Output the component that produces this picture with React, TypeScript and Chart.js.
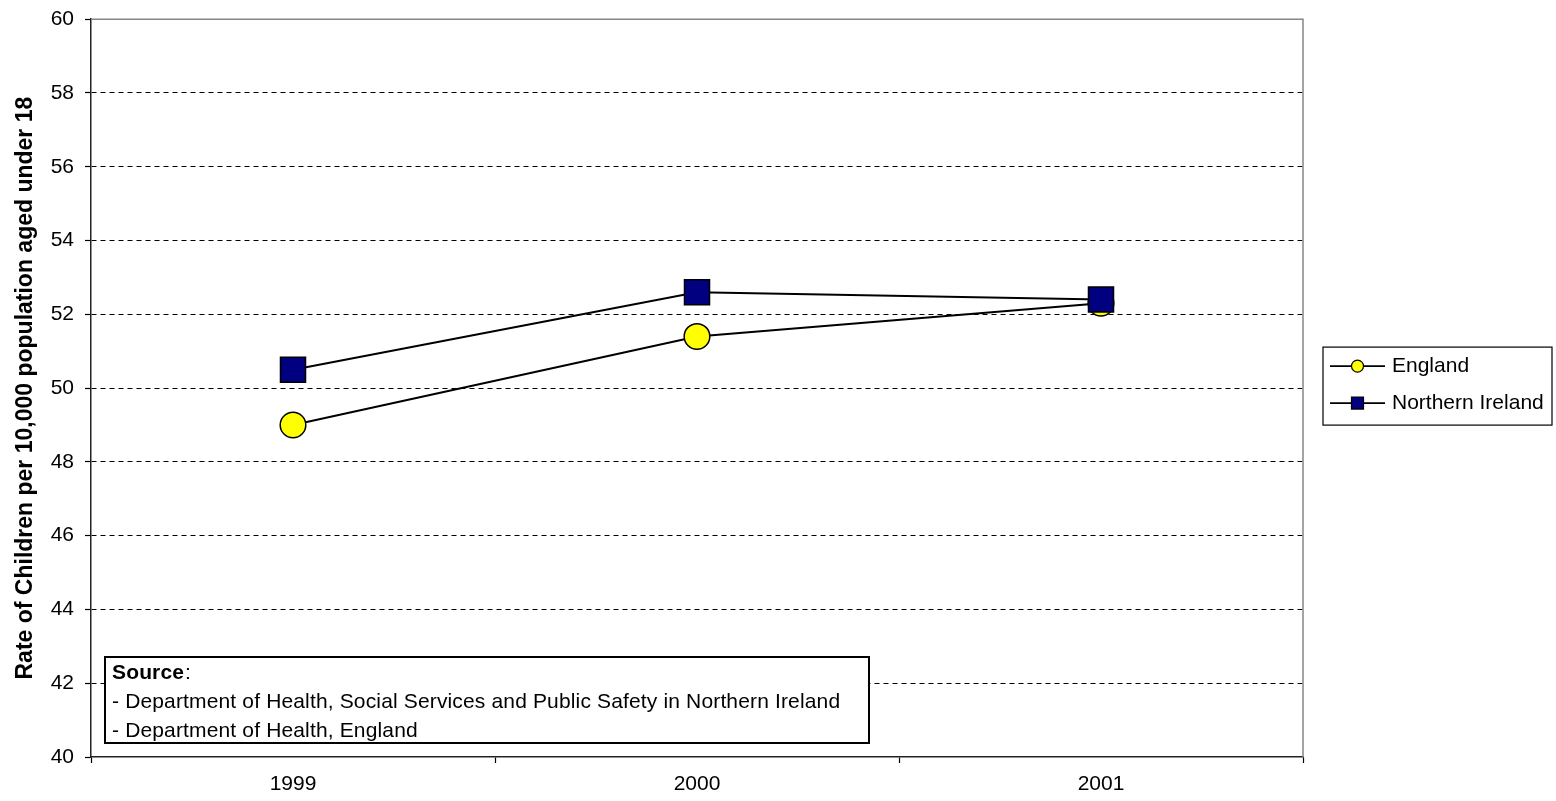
import React, { useEffect, useRef } from "react";
import { Chart, registerables } from "chart.js";

Chart.register(...registerables);

const categories = ["1999", "2000", "2001"];
const englandValues = [49.0, 51.4, 52.3];
const northernIrelandValues = [50.5, 52.6, 52.4];
const seriesLabels = ["England", "Northern Ireland"];
const yAxisTitle = "Rate of Children per 10,000 population aged under 18";
const sourceHeading = "Source";
const sourceLines = [
  "- Department of Health, Social Services and Public Safety in Northern Ireland",
  "- Department of Health, England",
];

const FONT = "'Liberation Sans', Arial, Helvetica, sans-serif";

const overlayPlugin = {
  id: "overlay",
  afterDraw(chart: any) {
    const { ctx, chartArea } = chart;
    const { left, right, top, bottom } = chartArea;
    ctx.save();
    // plot frame top and right (gray)
    ctx.strokeStyle = "#868686";
    ctx.lineWidth = 1.5;
    ctx.beginPath();
    ctx.moveTo(left, top);
    ctx.lineTo(right, top);
    ctx.lineTo(right, bottom);
    ctx.stroke();

    // Legend
    const lx = right + 20;
    const lw = 229;
    const lh = 78;
    const ly = (top + bottom) / 2 - lh / 2 - 2;
    ctx.fillStyle = "#ffffff";
    ctx.fillRect(lx, ly, lw, lh);
    ctx.strokeStyle = "#000000";
    ctx.lineWidth = 1.2;
    ctx.strokeRect(lx, ly, lw, lh);
    ctx.font = `21px ${FONT}`;
    ctx.textBaseline = "middle";
    ctx.textAlign = "left";
    chart.data.datasets.forEach((ds: any, i: number) => {
      const y = ly + 19 + i * 37;
      ctx.strokeStyle = "#000";
      ctx.lineWidth = 1.8;
      ctx.beginPath();
      ctx.moveTo(lx + 7, y);
      ctx.lineTo(lx + 62, y);
      ctx.stroke();
      const mx = lx + 34.5;
      ctx.fillStyle = ds.pointBackgroundColor;
      ctx.lineWidth = 1.2;
      if (ds.pointStyle === "circle") {
        ctx.beginPath();
        ctx.arc(mx, y, 6, 0, Math.PI * 2);
        ctx.fill();
        ctx.stroke();
      } else {
        ctx.fillRect(mx - 6, y - 6, 12, 12);
        ctx.strokeRect(mx - 6, y - 6, 12, 12);
      }
      ctx.fillStyle = "#000";
      ctx.fillText(ds.label, lx + 69, y);
    });

    // Source box
    const sx = left + 14;
    const sw = 764;
    const sh = 86;
    const sy = bottom - 14 - sh;
    ctx.fillStyle = "#ffffff";
    ctx.fillRect(sx, sy, sw, sh);
    ctx.strokeStyle = "#000";
    ctx.lineWidth = 2;
    ctx.strokeRect(sx, sy, sw, sh);
    ctx.fillStyle = "#000";
    ctx.textBaseline = "middle";
    try {
      (ctx as any).letterSpacing = "0.15px";
    } catch (e) {}
    ctx.font = `bold 21px ${FONT}`;
    ctx.fillText(sourceHeading, sx + 7, sy + 16);
    const hw = ctx.measureText(sourceHeading).width;
    ctx.font = `21px ${FONT}`;
    ctx.fillText(":", sx + 7 + hw + 1, sy + 16);
    sourceLines.forEach((t, i) => {
      ctx.fillText(t, sx + 7, sy + 45 + i * 29.5);
    });
    ctx.restore();
  },
};

export default function App() {
  const canvasRef = useRef<HTMLCanvasElement | null>(null);

  useEffect(() => {
    const canvas = canvasRef.current;
    if (!canvas) return;
    const chart = new Chart(canvas, {
      type: "line",
      data: {
        labels: categories,
        datasets: [
          {
            label: seriesLabels[0],
            data: englandValues,
            borderColor: "#000000",
            borderWidth: 2,
            pointStyle: "circle",
            pointRadius: 12.8,
            pointHoverRadius: 12.8,
            pointBackgroundColor: "#FFFF00",
            pointBorderColor: "#000000",
            pointBorderWidth: 1.5,
            order: 2,
            tension: 0,
          },
          {
            label: seriesLabels[1],
            data: northernIrelandValues,
            borderColor: "#000000",
            borderWidth: 2,
            pointStyle: "rect",
            pointRadius: 17.7,
            pointHoverRadius: 17.7,
            pointBackgroundColor: "#000080",
            pointBorderColor: "#000000",
            pointBorderWidth: 1.5,
            order: 1,
            tension: 0,
          },
        ],
      },
      options: {
        responsive: false,
        animation: false,
        devicePixelRatio: 1,
        layout: { padding: { top: 19, right: 253, left: 0, bottom: 0 } },
        plugins: {
          legend: { display: false },
          tooltip: { enabled: false },
          title: { display: false },
        },
        scales: {
          x: {
            type: "category",
            offset: true,
            grid: {
              offset: true,
              drawOnChartArea: false,
              drawTicks: true,
              tickLength: 6,
              tickColor: "#000",
              tickWidth: 1.2,
            },
            border: { display: true, color: "#222", width: 1.5 },
            ticks: {
              color: "#000",
              font: { family: FONT, size: 21 },
              padding: 9,
              maxRotation: 0,
            },
            afterFit(scale: any) {
              scale.height = 44;
              scale.paddingLeft = 0;
              scale.paddingRight = 0;
            },
          },
          y: {
            min: 40,
            max: 60,
            ticks: {
              stepSize: 2,
              color: "#000",
              font: { family: FONT, size: 21 },
              padding: 11,
            },
            grid: {
              color: (c: any) =>
                c.tick && (c.tick.value === 40 || c.tick.value === 60) ? "rgba(0,0,0,0)" : "#000",
              lineWidth: 1,
              drawTicks: true,
              tickLength: 6,
              tickColor: "#000",
              tickWidth: 1.2,
            },
            border: { display: true, color: "#222", width: 1.5, dash: [5, 4] },
            title: {
              display: true,
              text: yAxisTitle,
              color: "#000",
              font: { family: FONT, size: 23, weight: "bold" },
              padding: { top: 12, bottom: 0 },
            },
            afterFit(scale: any) {
              scale.width = 91;
              scale.paddingTop = 0;
              scale.paddingBottom = 0;
            },
          },
        },
      },
      plugins: [overlayPlugin],
    });
    return () => chart.destroy();
  }, []);

  return (
    <div style={{ position: "fixed", left: 0, top: 0, width: 1556, height: 801, background: "#fff" }}>
      <canvas ref={canvasRef} width={1556} height={801} style={{ width: 1556, height: 801 }} />
    </div>
  );
}
